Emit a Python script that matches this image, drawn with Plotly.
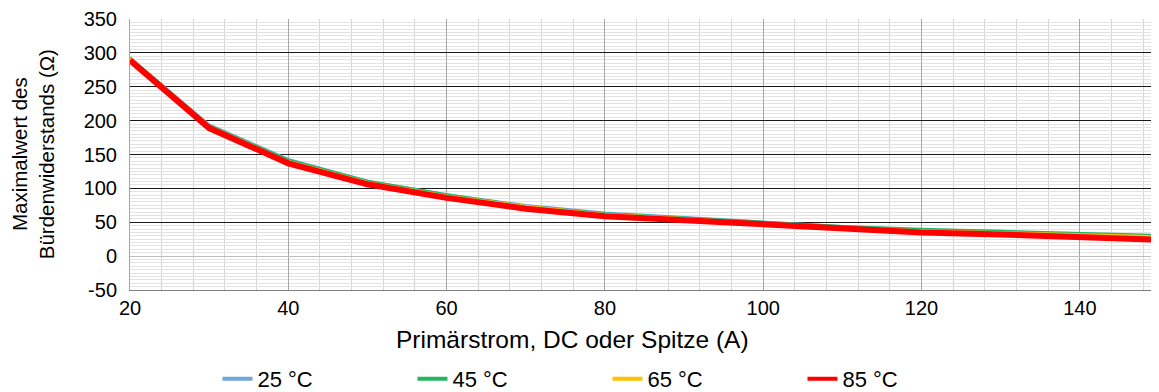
import plotly.graph_objects as go

current_a = [20, 30, 40, 50, 60, 70, 80, 90, 100, 110, 120, 130, 140, 150]
r_25 = [293, 194, 143, 111, 91, 75, 64, 57, 50, 44, 39, 37, 32, 30]
r_45 = [293, 193, 142, 111, 91, 74, 63, 57, 50, 44, 40, 37, 33, 31]
r_65 = [292, 192, 140, 109, 89, 74, 62, 56, 48, 42, 38, 35, 31, 29]
r_85 = [289, 189, 137, 106, 86, 70, 59, 53, 46, 40, 35, 32, 28, 24]

series_names = ["25 °C", "45 °C", "65 °C", "85 °C"]
series_vals = [r_25, r_45, r_65, r_85]
colors = ["#6FA6DC", "#27B461", "#FFC000", "#FF0000"]
widths = [2.5, 2.5, 2.5, 6]

y_tickvals = [-50, 0, 50, 100, 150, 200, 250, 300, 350]
y_ticktext = ["-50", "0", "50", "100", "150", "200", "250", "300", "350"]
x_tickvals = [20, 40, 60, 80, 100, 120, 140]

x_title = "Primärstrom, DC oder Spitze (A)"
y_title = "Maximalwert des<br>Bürdenwiderstands (Ω)"

FONT = "Liberation Sans, Arial, sans-serif"

fig = go.Figure()
for name, vals, col, w in zip(series_names, series_vals, colors, widths):
    fig.add_trace(go.Scatter(x=current_a, y=vals, mode="lines", name=name,
                             line=dict(color=col, width=w), showlegend=False))
for name, col in zip(series_names, colors):
    fig.add_trace(go.Scatter(x=[None], y=[None], mode="lines", name=name,
                             line=dict(color=col, width=4), showlegend=True))

fig.update_layout(
    width=1151, height=384,
    margin=dict(l=122, r=0, t=11, b=102),
    paper_bgcolor="white", plot_bgcolor="white",
    font=dict(family=FONT, size=20, color="black"),
    legend=dict(orientation="h", x=0.085, xanchor="left",
                yref="container", y=0.0885, yanchor="top",
                entrywidth=150, entrywidthmode="pixels",
                font=dict(family=FONT, size=22, color="black"),
                bgcolor="rgba(0,0,0,0)"),
    xaxis=dict(range=[20, 150], tickvals=x_tickvals,
               showgrid=True, gridcolor="#a6a6a6", gridwidth=1,
               minor=dict(dtick=4, tick0=20, showgrid=True, gridcolor="#d4d4d4", gridwidth=1),
               showline=True, linecolor="#7f7f7f", linewidth=1,
               zeroline=False, ticks="", tickfont=dict(size=20)),
    yaxis=dict(range=[-50, 350], tickvals=y_tickvals, ticktext=y_ticktext,
               showgrid=True, gridcolor="#1a1a1a", gridwidth=1,
               minor=dict(dtick=5, tick0=0, showgrid=True, gridcolor="#e3e3e3", gridwidth=1),
               showline=True, linecolor="#a6a6a6", linewidth=1,
               zeroline=True, zerolinecolor="#bfbfbf", zerolinewidth=1,
               ticks="", ticklabelstandoff=8, tickfont=dict(size=20)),
    annotations=[
        dict(text=x_title, xref="paper", yref="paper", x=0.4296, y=-0.1845,
             xanchor="center", yanchor="middle", showarrow=False,
             font=dict(family=FONT, size=24.5, color="black")),
        dict(text=y_title, xref="paper", yref="paper", x=-0.0945, y=0.5,
             xanchor="center", yanchor="middle", showarrow=False, textangle=-90,
             font=dict(family=FONT, size=20.5, color="black")),
    ],
)

fig.write_html("out.html")
